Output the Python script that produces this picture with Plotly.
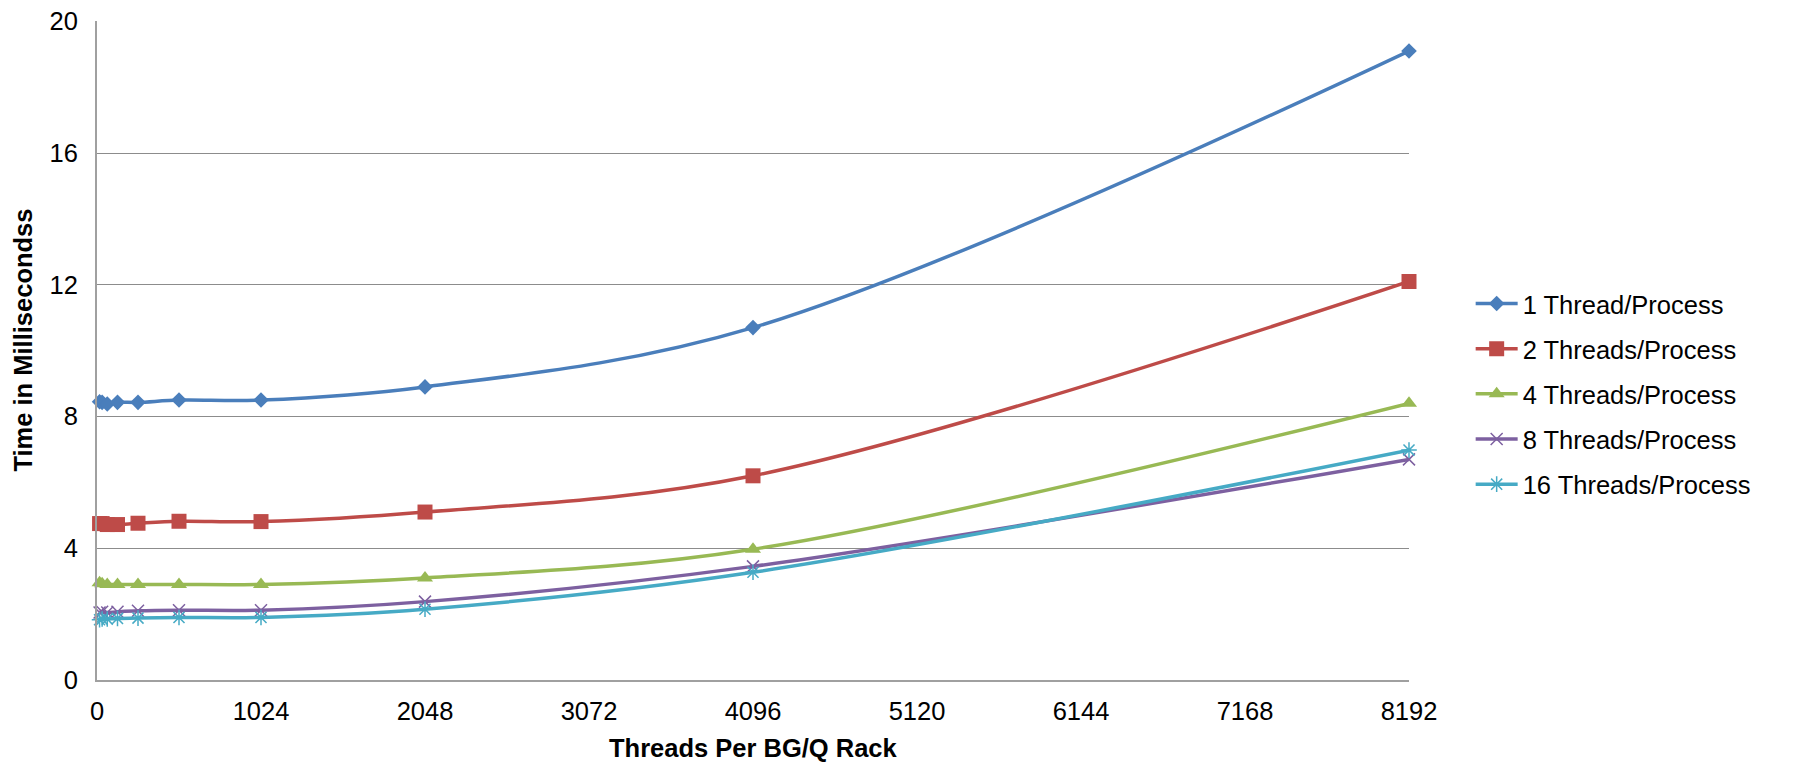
import plotly.graph_objects as go

threads = [16, 32, 64, 128, 256, 512, 1024, 2048, 4096, 8192]
t1 = [8.45, 8.43, 8.38, 8.43, 8.43, 8.50, 8.50, 8.90, 10.70, 19.10]
t2 = [4.75, 4.75, 4.72, 4.72, 4.76, 4.82, 4.81, 5.10, 6.20, 12.10]
t4 = [2.95, 2.92, 2.90, 2.90, 2.90, 2.90, 2.90, 3.10, 3.97, 8.40]
t8 = [2.05, 2.07, 2.05, 2.07, 2.10, 2.12, 2.12, 2.38, 3.45, 6.70]
t16 = [1.83, 1.85, 1.85, 1.87, 1.88, 1.90, 1.90, 2.15, 3.27, 6.98]

names = ["1 Thread/Process", "2 Threads/Process", "4 Threads/Process",
         "8 Threads/Process", "16 Threads/Process"]
series = [t1, t2, t4, t8, t16]
colors = ["#4A7EBB", "#BE4B48", "#98B954", "#7D60A0", "#46AAC5"]
symbols = ["diamond", "square", "triangle-up", "x-thin-open", "asterisk-open"]
sizes = [12, 15, 14, 12, 13]

x_ticks = [0, 1024, 2048, 3072, 4096, 5120, 6144, 7168, 8192]
y_ticks = [0, 4, 8, 12, 16, 20]

FONT = "Liberation Sans, Arial, sans-serif"

fig = go.Figure()
for i, (nm, ys) in enumerate(zip(names, series)):
    open_sym = symbols[i].endswith("open")
    fig.add_trace(go.Scatter(
        x=threads, y=ys, name=nm, mode="lines+markers",
        legendgroup=f"g{i}", cliponaxis=False,
        line=dict(color=colors[i], width=3.5, shape="spline", smoothing=1.0),
        marker=dict(symbol=symbols[i], size=sizes[i], color=colors[i],
                    line=dict(color=colors[i], width=1.5 if open_sym else 0)),
    ))

title_font = dict(family=FONT, size=25.5, color="black")

fig.update_layout(
    width=1786, height=754,
    paper_bgcolor="white", plot_bgcolor="white",
    margin=dict(l=89, r=385, t=13, b=82),
    font=dict(family=FONT, size=25.5, color="black"),
    legend=dict(x=1.047, xanchor="left", y=0.434, yanchor="middle",
                font=dict(family=FONT, size=25.5, color="black"),
                traceorder="grouped", tracegroupgap=9, itemwidth=42,
                bgcolor="rgba(0,0,0,0)"),
    showlegend=True,
    annotations=[
        dict(text="<b>Time in Millisecondss</b>", textangle=-90,
             xref="paper", yref="paper", x=-0.0564, y=0.515,
             xanchor="center", yanchor="middle", showarrow=False,
             font=title_font),
        dict(text="<b>Threads Per BG/Q Rack</b>",
             xref="paper", yref="paper", x=0.5, y=-0.1025,
             xanchor="center", yanchor="middle", showarrow=False,
             borderpad=0, font=title_font),
    ],
)
fig.update_xaxes(
    range=[0, 8192], tickvals=x_ticks, ticktext=[str(v) for v in x_ticks],
    showgrid=False, zeroline=False, showline=True, linecolor="#A0A0A0", linewidth=2,
    ticks="", ticklabelstandoff=7, automargin=False,
    tickfont=dict(family=FONT, size=25.5, color="black"),
)
fig.update_yaxes(
    range=[0, 20.01], tickvals=y_ticks, ticktext=[str(v) for v in y_ticks],
    showgrid=True, gridcolor="#8C8C8C", gridwidth=1,
    zeroline=False, showline=True, linecolor="#A0A0A0", linewidth=2,
    ticks="", ticklabelstandoff=12, automargin=False, ticklabeloverflow="allow",
    tickfont=dict(family=FONT, size=25.5, color="black"),
)

fig.write_html("out.html")
